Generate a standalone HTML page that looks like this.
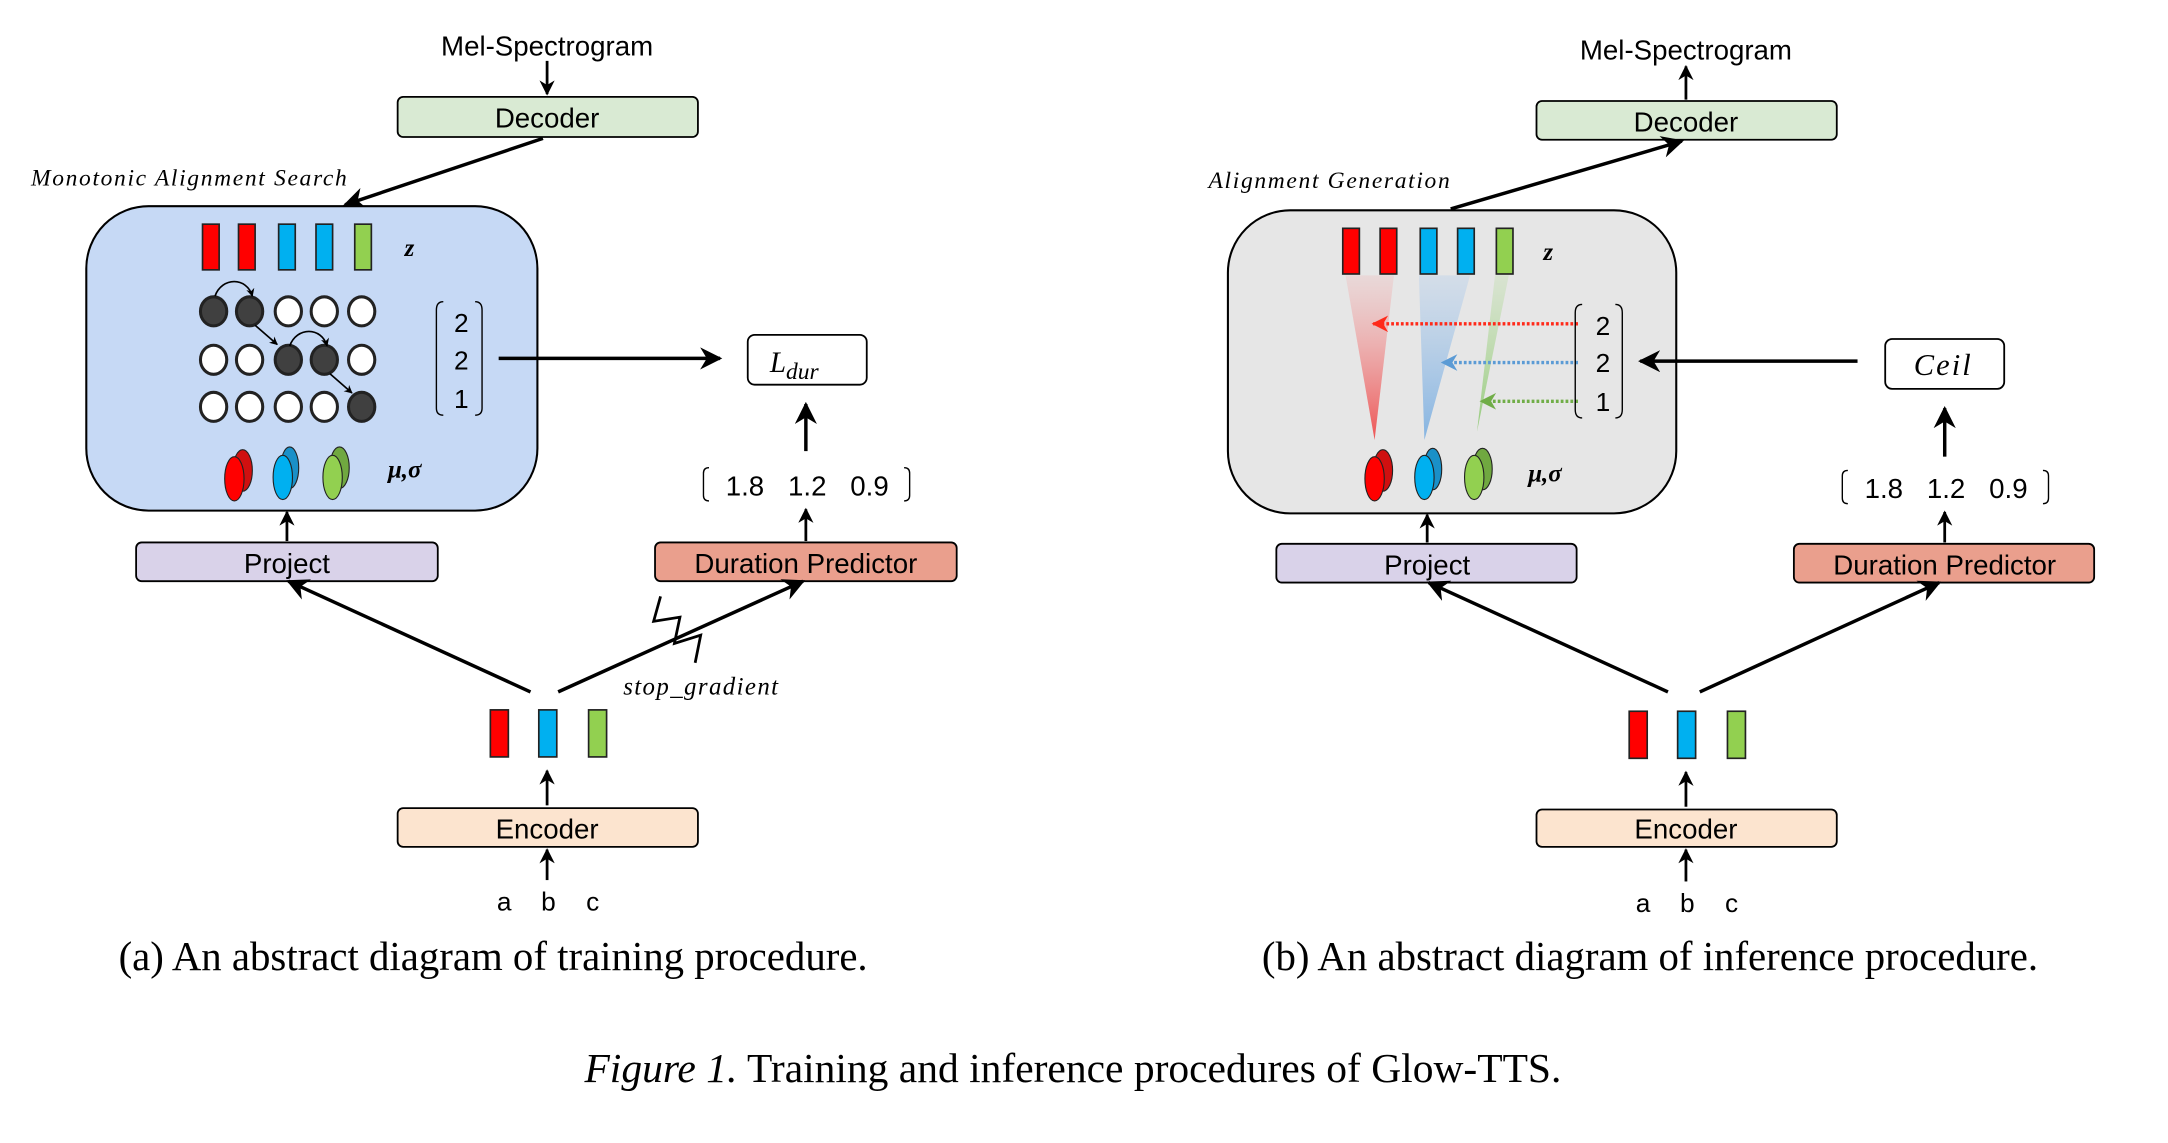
<!DOCTYPE html>
<html><head><meta charset="utf-8"><style>html,body{margin:0;padding:0;background:#fff}svg{display:block}</style></head>
<body>
<svg width="2168" height="1143" viewBox="0 0 1566 826" xmlns="http://www.w3.org/2000/svg">
<defs>
<marker id="ah" viewBox="0 0 10 10" refX="9" refY="5" markerWidth="11" markerHeight="11" orient="auto-start-reverse" markerUnits="userSpaceOnUse">
<path d="M0,0 L10,5 L0,10 L3,5 z" fill="#000"/></marker>
<marker id="ahb" viewBox="0 0 10 10" refX="9" refY="5" markerWidth="16" markerHeight="16" orient="auto" markerUnits="userSpaceOnUse">
<path d="M0,0 L10,5 L0,10 L3,5 z" fill="#000"/></marker>
<marker id="ar" viewBox="0 0 10 10" refX="9" refY="5" markerWidth="12" markerHeight="12" orient="auto" markerUnits="userSpaceOnUse"><path d="M0,0 L10,5 L0,10 L3,5 z" fill="#ff2a1a"/></marker>
<marker id="ab" viewBox="0 0 10 10" refX="9" refY="5" markerWidth="12" markerHeight="12" orient="auto" markerUnits="userSpaceOnUse"><path d="M0,0 L10,5 L0,10 L3,5 z" fill="#5b9bd5"/></marker>
<marker id="ag" viewBox="0 0 10 10" refX="9" refY="5" markerWidth="12" markerHeight="12" orient="auto" markerUnits="userSpaceOnUse"><path d="M0,0 L10,5 L0,10 L3,5 z" fill="#70ad47"/></marker>
<marker id="as" viewBox="0 0 10 10" refX="9" refY="5" markerWidth="6" markerHeight="6" orient="auto" markerUnits="userSpaceOnUse"><path d="M0,0 L10,5 L0,10 L3,5 z" fill="#000"/></marker>
<linearGradient id="gr" x1="0" y1="0" x2="0" y2="1"><stop offset="0" stop-color="#f4a0a0" stop-opacity="0.2"/><stop offset="1" stop-color="#ee4444" stop-opacity="0.9"/></linearGradient>
<linearGradient id="gb" x1="0" y1="0" x2="0" y2="1"><stop offset="0" stop-color="#a8c8ec" stop-opacity="0.3"/><stop offset="1" stop-color="#7aaee0" stop-opacity="0.9"/></linearGradient>
<linearGradient id="gg" x1="0" y1="0" x2="0" y2="1"><stop offset="0" stop-color="#b8dca0" stop-opacity="0.3"/><stop offset="1" stop-color="#8cc870" stop-opacity="0.9"/></linearGradient>
</defs>
<g font-family="Liberation Sans, DejaVu Sans, sans-serif" stroke-linecap="butt">

<!-- LEFT PANEL -->
<text x="395" y="40" font-size="20" text-anchor="middle">Mel-Spectrogram</text>
<line x1="395" y1="44" x2="395" y2="68" stroke="#000" stroke-width="2" marker-end="url(#ah)"/>
<rect x="287" y="70" width="217" height="29" rx="4" fill="#d9ead3" stroke="#000" stroke-width="1.3"/>
<text x="395" y="92" font-size="20" text-anchor="middle">Decoder</text>
<line x1="392" y1="100" x2="249" y2="148" stroke="#000" stroke-width="2.5" marker-end="url(#ahb)"/>
<text x="22" y="134" font-size="17" font-style="italic" font-family="Liberation Serif, serif" letter-spacing="1.2">Monotonic Alignment Search</text>
<rect x="62" y="149" width="326" height="220" rx="45" fill="#c6d9f5" stroke="#000" stroke-width="1.5"/>
<g stroke="#222" stroke-width="1.2">
<rect x="146" y="162" width="12" height="33" fill="#ff0000"/>
<rect x="172" y="162" width="12" height="33" fill="#ff0000"/>
<rect x="201" y="162" width="12" height="33" fill="#00b0f0"/>
<rect x="228" y="162" width="12" height="33" fill="#00b0f0"/>
<rect x="256" y="162" width="12" height="33" fill="#92d050"/>
</g>
<text x="292" y="185" font-size="18" font-weight="bold" font-style="italic" font-family="Liberation Serif, serif">z</text>
<g stroke="#222" stroke-width="2.2">
<ellipse cx="154" cy="225" rx="9.5" ry="10.5" fill="#404040"/>
<ellipse cx="180" cy="225" rx="9.5" ry="10.5" fill="#404040"/>
<ellipse cx="208" cy="225" rx="9.5" ry="10.5" fill="#fff"/>
<ellipse cx="234" cy="225" rx="9.5" ry="10.5" fill="#fff"/>
<ellipse cx="261" cy="225" rx="9.5" ry="10.5" fill="#fff"/>
<ellipse cx="154" cy="260" rx="9.5" ry="10.5" fill="#fff"/>
<ellipse cx="180" cy="260" rx="9.5" ry="10.5" fill="#fff"/>
<ellipse cx="208" cy="260" rx="9.5" ry="10.5" fill="#404040"/>
<ellipse cx="234" cy="260" rx="9.5" ry="10.5" fill="#404040"/>
<ellipse cx="261" cy="260" rx="9.5" ry="10.5" fill="#fff"/>
<ellipse cx="154" cy="294" rx="9.5" ry="10.5" fill="#fff"/>
<ellipse cx="180" cy="294" rx="9.5" ry="10.5" fill="#fff"/>
<ellipse cx="208" cy="294" rx="9.5" ry="10.5" fill="#fff"/>
<ellipse cx="234" cy="294" rx="9.5" ry="10.5" fill="#fff"/>
<ellipse cx="261" cy="294" rx="9.5" ry="10.5" fill="#404040"/>
</g>
<g fill="none" stroke="#000" stroke-width="1.2">
<path d="M155,214 C160,200 178,200 182,214" marker-end="url(#as)"/>
<path d="M184,235 L200,249" marker-end="url(#as)"/>
<path d="M209,250 C214,236 232,236 236,250" marker-end="url(#as)"/>
<path d="M238,270 L254,284" marker-end="url(#as)"/>
</g>
<path d="M320,218 Q315,218 315,224 L315,295 Q315,300 320,300" fill="none" stroke="#000" stroke-width="1"/>
<path d="M343,218 Q348,218 348,224 L348,295 Q348,300 343,300" fill="none" stroke="#000" stroke-width="1"/>
<text x="333" y="240" font-size="19" text-anchor="middle">2</text>
<text x="333" y="267" font-size="19" text-anchor="middle">2</text>
<text x="333" y="295" font-size="19" text-anchor="middle">1</text>
<line x1="360" y1="259" x2="520" y2="259" stroke="#000" stroke-width="2.5" marker-end="url(#ahb)"/>
<rect x="540" y="242" width="86" height="36" rx="5" fill="#fff" stroke="#000" stroke-width="1.3"/>
<text x="556" y="269" font-size="21" font-style="italic" font-family="Liberation Serif, serif">L<tspan font-size="17" dy="5">dur</tspan></text>
<line x1="582" y1="326" x2="582" y2="292" stroke="#000" stroke-width="2.5" marker-end="url(#ahb)"/>
<text x="538" y="358" font-size="20" text-anchor="middle">1.8</text>
<text x="583" y="358" font-size="20" text-anchor="middle">1.2</text>
<text x="628" y="358" font-size="20" text-anchor="middle">0.9</text>
<path d="M512,338 Q508,338 508,342 L508,358 Q508,362 512,362" fill="none" stroke="#000" stroke-width="1"/>
<path d="M653,338 Q657,338 657,342 L657,358 Q657,362 653,362" fill="none" stroke="#000" stroke-width="1"/>
<line x1="582" y1="391" x2="582" y2="368" stroke="#000" stroke-width="2" marker-end="url(#ah)"/>
<g stroke="#222" stroke-width="0.8">
<ellipse cx="175" cy="340" rx="7" ry="15" fill="#d01010"/>
<ellipse cx="169" cy="346" rx="7" ry="16" fill="#ff0000"/>
<ellipse cx="209" cy="338" rx="6.5" ry="15" fill="#1a90c8"/>
<ellipse cx="204" cy="345" rx="7" ry="16" fill="#00b0f0"/>
<ellipse cx="245" cy="338" rx="7" ry="15" fill="#70a840"/>
<ellipse cx="240" cy="345" rx="7" ry="16" fill="#92d050"/>
</g>
<text x="280" y="345" font-size="18" font-weight="bold" font-style="italic" font-family="Liberation Serif, serif">μ,σ</text>
<line x1="207" y1="391" x2="207" y2="370" stroke="#000" stroke-width="2" marker-end="url(#ah)"/>
<rect x="98" y="392" width="218" height="28" rx="4" fill="#d9d2e9" stroke="#000" stroke-width="1.3"/>
<text x="207" y="414" font-size="20" text-anchor="middle">Project</text>
<rect x="473" y="392" width="218" height="28" rx="4" fill="#ea9f8d" stroke="#000" stroke-width="1.3"/>
<text x="582" y="414" font-size="20" text-anchor="middle">Duration Predictor</text>
<line x1="383" y1="500" x2="208" y2="420" stroke="#000" stroke-width="2.5" marker-end="url(#ahb)"/>
<line x1="403" y1="500" x2="580" y2="420" stroke="#000" stroke-width="2.5" marker-end="url(#ahb)"/>
<polyline points="477,431 472,449 491,446 487,465 506,459 502,479" fill="none" stroke="#000" stroke-width="2"/>
<text x="450" y="502" font-size="18" font-style="italic" font-family="Liberation Serif, serif" letter-spacing="1">stop_gradient</text>
<g stroke="#222" stroke-width="1.2">
<rect x="354" y="513" width="13" height="34" fill="#ff0000"/>
<rect x="389" y="513" width="13" height="34" fill="#00b0f0"/>
<rect x="425" y="513" width="13" height="34" fill="#92d050"/>
</g>
<line x1="395" y1="582" x2="395" y2="557" stroke="#000" stroke-width="2" marker-end="url(#ah)"/>
<rect x="287" y="584" width="217" height="28" rx="4" fill="#fce4cf" stroke="#000" stroke-width="1.3"/>
<text x="395" y="606" font-size="20" text-anchor="middle">Encoder</text>
<line x1="395" y1="636" x2="395" y2="614" stroke="#000" stroke-width="2" marker-end="url(#ah)"/>
<text x="364" y="658" font-size="19" text-anchor="middle">a</text>
<text x="396" y="658" font-size="19" text-anchor="middle">b</text>
<text x="428" y="658" font-size="19" text-anchor="middle">c</text>
<text x="356" y="701" font-size="29.5" text-anchor="middle" font-family="Liberation Serif, serif">(a) An abstract diagram of training procedure.</text>

<!-- RIGHT PANEL -->
<text x="1218" y="43" font-size="20" text-anchor="middle">Mel-Spectrogram</text>
<line x1="1218" y1="72" x2="1218" y2="48" stroke="#000" stroke-width="2" marker-end="url(#ah)"/>
<rect x="1110" y="73" width="217" height="28" rx="4" fill="#d9ead3" stroke="#000" stroke-width="1.3"/>
<text x="1218" y="95" font-size="20" text-anchor="middle">Decoder</text>
<line x1="1048" y1="151" x2="1215" y2="102" stroke="#000" stroke-width="2.5" marker-end="url(#ahb)"/>
<text x="873" y="136" font-size="17" font-style="italic" font-family="Liberation Serif, serif" letter-spacing="1.2">Alignment Generation</text>
<rect x="887" y="152" width="324" height="219" rx="45" fill="#e6e6e6" stroke="#000" stroke-width="1.5"/>
<polygon points="972,199 1007,199 993,318" fill="url(#gr)"/>
<polygon points="1025,199 1062,199 1029,318" fill="url(#gb)"/>
<polygon points="1080,199 1090,199 1067,312" fill="url(#gg)"/>
<g stroke="#222" stroke-width="1.2">
<rect x="970" y="165" width="12" height="33" fill="#ff0000"/>
<rect x="997" y="165" width="12" height="33" fill="#ff0000"/>
<rect x="1026" y="165" width="12" height="33" fill="#00b0f0"/>
<rect x="1053" y="165" width="12" height="33" fill="#00b0f0"/>
<rect x="1081" y="165" width="12" height="33" fill="#92d050"/>
</g>
<text x="1115" y="188" font-size="18" font-weight="bold" font-style="italic" font-family="Liberation Serif, serif">z</text>
<line x1="1140" y1="234" x2="992" y2="234" stroke="#ff2a1a" stroke-width="2.5" stroke-dasharray="2,1.5" marker-end="url(#ar)"/>
<line x1="1140" y1="262" x2="1042" y2="262" stroke="#5b9bd5" stroke-width="2.5" stroke-dasharray="2,1.5" marker-end="url(#ab)"/>
<line x1="1140" y1="290" x2="1070" y2="290" stroke="#70ad47" stroke-width="2.5" stroke-dasharray="2,1.5" marker-end="url(#ag)"/>
<path d="M1143,220 Q1138,220 1138,226 L1138,296 Q1138,302 1143,302" fill="none" stroke="#000" stroke-width="1"/>
<path d="M1167,220 Q1172,220 1172,226 L1172,296 Q1172,302 1167,302" fill="none" stroke="#000" stroke-width="1"/>
<text x="1158" y="242" font-size="19" text-anchor="middle">2</text>
<text x="1158" y="269" font-size="19" text-anchor="middle">2</text>
<text x="1158" y="297" font-size="19" text-anchor="middle">1</text>
<line x1="1342" y1="261" x2="1185" y2="261" stroke="#000" stroke-width="2.5" marker-end="url(#ahb)"/>
<rect x="1362" y="245" width="86" height="36" rx="5" fill="#fff" stroke="#000" stroke-width="1.3"/>
<text x="1404" y="271" font-size="22" font-style="italic" text-anchor="middle" font-family="Liberation Serif, serif" letter-spacing="1.5">Ceil</text>
<line x1="1405" y1="330" x2="1405" y2="295" stroke="#000" stroke-width="2.5" marker-end="url(#ahb)"/>
<text x="1361" y="360" font-size="20" text-anchor="middle">1.8</text>
<text x="1406" y="360" font-size="20" text-anchor="middle">1.2</text>
<text x="1451" y="360" font-size="20" text-anchor="middle">0.9</text>
<path d="M1335,340 Q1331,340 1331,344 L1331,360 Q1331,364 1335,364" fill="none" stroke="#000" stroke-width="1"/>
<path d="M1476,340 Q1480,340 1480,344 L1480,360 Q1480,364 1476,364" fill="none" stroke="#000" stroke-width="1"/>
<line x1="1405" y1="392" x2="1405" y2="370" stroke="#000" stroke-width="2" marker-end="url(#ah)"/>
<g stroke="#222" stroke-width="0.8">
<ellipse cx="999" cy="340" rx="7" ry="15" fill="#d01010"/>
<ellipse cx="993" cy="346" rx="7" ry="16" fill="#ff0000"/>
<ellipse cx="1035" cy="339" rx="6.5" ry="15" fill="#1a90c8"/>
<ellipse cx="1029" cy="345" rx="7" ry="16" fill="#00b0f0"/>
<ellipse cx="1071" cy="339" rx="7" ry="15" fill="#70a840"/>
<ellipse cx="1065" cy="345" rx="7" ry="16" fill="#92d050"/>
</g>
<text x="1104" y="348" font-size="18" font-weight="bold" font-style="italic" font-family="Liberation Serif, serif">μ,σ</text>
<line x1="1031" y1="392" x2="1031" y2="372" stroke="#000" stroke-width="2" marker-end="url(#ah)"/>
<rect x="922" y="393" width="217" height="28" rx="4" fill="#d9d2e9" stroke="#000" stroke-width="1.3"/>
<text x="1031" y="415" font-size="20" text-anchor="middle">Project</text>
<rect x="1296" y="393" width="217" height="28" rx="4" fill="#ea9f8d" stroke="#000" stroke-width="1.3"/>
<text x="1405" y="415" font-size="20" text-anchor="middle">Duration Predictor</text>
<line x1="1205" y1="500" x2="1032" y2="421" stroke="#000" stroke-width="2.5" marker-end="url(#ahb)"/>
<line x1="1228" y1="500" x2="1401" y2="421" stroke="#000" stroke-width="2.5" marker-end="url(#ahb)"/>
<g stroke="#222" stroke-width="1.2">
<rect x="1177" y="514" width="13" height="34" fill="#ff0000"/>
<rect x="1212" y="514" width="13" height="34" fill="#00b0f0"/>
<rect x="1248" y="514" width="13" height="34" fill="#92d050"/>
</g>
<line x1="1218" y1="583" x2="1218" y2="558" stroke="#000" stroke-width="2" marker-end="url(#ah)"/>
<rect x="1110" y="585" width="217" height="27" rx="4" fill="#fce4cf" stroke="#000" stroke-width="1.3"/>
<text x="1218" y="606" font-size="20" text-anchor="middle">Encoder</text>
<line x1="1218" y1="637" x2="1218" y2="614" stroke="#000" stroke-width="2" marker-end="url(#ah)"/>
<text x="1187" y="659" font-size="19" text-anchor="middle">a</text>
<text x="1219" y="659" font-size="19" text-anchor="middle">b</text>
<text x="1251" y="659" font-size="19" text-anchor="middle">c</text>
<text x="1192" y="701" font-size="29.5" text-anchor="middle" font-family="Liberation Serif, serif">(b) An abstract diagram of inference procedure.</text>

<text x="775" y="782" font-size="30" text-anchor="middle" font-family="Liberation Serif, serif"><tspan font-style="italic">Figure 1.</tspan> Training and inference procedures of Glow-TTS.</text>
</g>
</svg>
</body></html>
